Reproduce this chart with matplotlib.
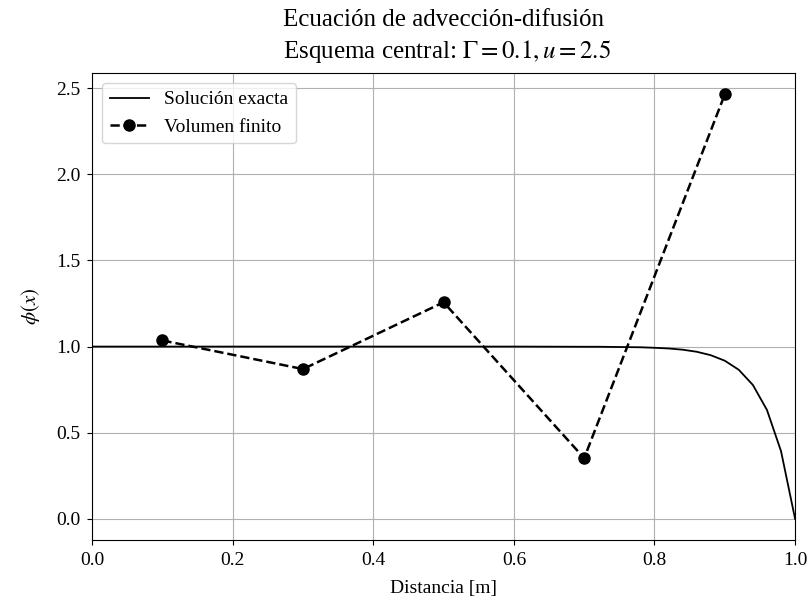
import numpy as np
import matplotlib
matplotlib.use("Agg")
import matplotlib.pyplot as plt

plt.rcParams['font.family'] = ['Liberation Serif', 'DejaVu Serif']
plt.rcParams['mathtext.fontset'] = 'stix'
plt.rcParams['font.size'] = 13.5

# solucion exacta
x_exact = [0.0, 0.6, 0.7, 0.72, 0.74, 0.76, 0.78, 0.8, 0.82, 0.84, 0.86, 0.88,
           0.9, 0.92, 0.94, 0.96, 0.98, 1.0]
phi_exact = [1.0, 1.0, 0.999, 0.999, 0.998, 0.997, 0.996, 0.993, 0.989, 0.982,
             0.970, 0.950, 0.918, 0.865, 0.777, 0.632, 0.393, 0.0]

# volumen finito, esquema central
x_fv = [0.1, 0.3, 0.5, 0.7, 0.9]
phi_fv = [1.0356, 0.8694, 1.2573, 0.3521, 2.4644]

fig, ax = plt.subplots(figsize=(8.08, 6.0), dpi=100)
ax.plot(x_exact, phi_exact, 'k-', lw=1.3, label='Solución exacta')
ax.plot(x_fv, phi_fv, 'k--', marker='o', ms=8, lw=1.8, label='Volumen finito')
ax.set_xlim(0, 1)
ax.tick_params(labelsize=14, pad=5)
ax.set_xlabel('Distancia [m]', labelpad=8, fontsize=14)
ax.set_ylabel(r'$\phi(x)$', fontsize=15, labelpad=10)
ax.set_title('Ecuación de advección-difusión\n Esquema central: $\\Gamma = 0.1, u = 2.5$',
             fontsize=18, pad=11, linespacing=1.35)
ax.grid(True)
ax.legend(loc='upper left', fontsize=14)
fig.subplots_adjust(left=0.114, right=0.984, top=0.878, bottom=0.1)
fig.savefig('out.png', dpi=100)
